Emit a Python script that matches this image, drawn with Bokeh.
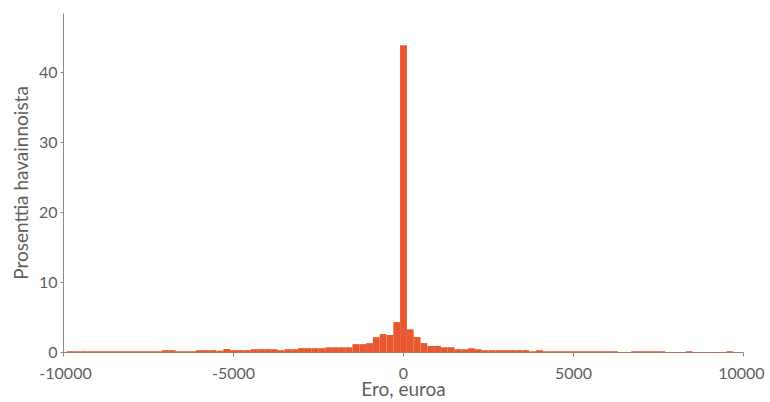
from bokeh.plotting import figure
from bokeh.models import Range1d, FixedTicker
from bokeh.embed import file_html
from bokeh.resources import INLINE

# ---- data ----
bin_width = 200
bin_centers = list(range(-9800, 9801, 200))
percent = [
    # -9800 ... -7200
    0.18, 0.18, 0.18, 0.18, 0.18, 0.18, 0.18, 0.18, 0.18, 0.18, 0.18, 0.18, 0.18, 0.18,
    # -7000, -6800
    0.33, 0.33,
    # -6600, -6400, -6200
    0.18, 0.18, 0.18,
    # -6000, -5800, -5600
    0.33, 0.33, 0.33,
    # -5400, -5200
    0.25, 0.50,
    # -5000, -4800, -4600
    0.33, 0.33, 0.33,
    # -4400 ... -3800
    0.47, 0.47, 0.47, 0.47,
    # -3600
    0.33,
    # -3400, -3200
    0.47, 0.47,
    # -3000 ... -2400
    0.62, 0.62, 0.62, 0.62,
    # -2200 ... -1600
    0.74, 0.74, 0.74, 0.74,
    # -1400, -1200
    1.19, 1.19,
    # -1000, -800, -600, -400, -200
    1.33, 2.18, 2.63, 2.50, 4.35,
    # 0
    43.85,
    # 200, 400, 600
    3.31, 2.20, 1.35,
    # 800, 1000, 1200, 1400
    0.94, 0.94, 0.75, 0.75,
    # 1600, 1800, 2000, 2200
    0.47, 0.47, 0.61, 0.47,
    # 2400 ... 3600
    0.33, 0.33, 0.33, 0.33, 0.33, 0.33, 0.33,
    # 3800, 4000
    0.18, 0.33,
    # 4200 ... 6200
    0.18, 0.18, 0.18, 0.18, 0.18, 0.18, 0.18, 0.18, 0.18, 0.18, 0.18,
    # 6400, 6600
    0.05, 0.05,
    # 6800 ... 7600
    0.18, 0.18, 0.18, 0.18, 0.18,
    # 7800, 8000, 8200
    0.05, 0.05, 0.05,
    # 8400
    0.18,
    # 8600 ... 9400
    0.05, 0.05, 0.05, 0.05, 0.05,
    # 9600, 9800
    0.18, 0.05,
]
x_ticks = [-10000, -5000, 0, 5000, 10000]
y_ticks = [0, 10, 20, 30, 40]
x_title = "Ero, euroa"
y_title = "Prosenttia havainnoista"

# ---- style ----
BAR = "#E8572F"
AXIS = "#8a8a8a"
TEXT = "#5f5f5f"
FONT = "Lato"
TICK_SIZE = "16px"
TITLE_SIZE = "19px"
PAD = "\u00a0"   # nudges the two end labels inward, as in the reference

p = figure(width=770, height=402, output_backend="svg", toolbar_location=None,
           x_range=Range1d(-10000, 10000), y_range=Range1d(0, 48.4),
           min_border_left=63, min_border_right=27, min_border_top=13,
           min_border_bottom=49)
p.outline_line_color = None
p.grid.visible = False
p.background_fill_color = "white"
p.border_fill_color = "white"

bars = p.vbar(x=bin_centers, width=bin_width, top=percent, bottom=0,
              fill_color=BAR, line_color=None)
bars.level = "overlay"   # bars are painted over the axis line

for ax in (p.xaxis[0], p.yaxis[0]):
    ax.axis_line_color = AXIS
    ax.major_tick_line_color = AXIS
    ax.minor_tick_line_color = None
    ax.major_tick_in = 0
    ax.major_label_text_font = FONT
    ax.major_label_text_font_size = TICK_SIZE
    ax.major_label_text_color = TEXT
    ax.axis_label_text_font = FONT
    ax.axis_label_text_font_size = TITLE_SIZE
    ax.axis_label_text_font_style = "normal"
    ax.axis_label_text_color = TEXT

xa = p.xaxis[0]
xa.ticker = FixedTicker(ticks=x_ticks)
xa.major_tick_out = 4
xa.major_label_standoff = 6
xa.axis_label = x_title
xa.axis_label_standoff = -8
labels = {t: str(t) for t in x_ticks}
labels[x_ticks[0]] = PAD + labels[x_ticks[0]]
labels[x_ticks[-1]] = labels[x_ticks[-1]] + PAD
xa.major_label_overrides = labels

ya = p.yaxis[0]
ya.ticker = FixedTicker(ticks=y_ticks)
ya.major_tick_out = 3
ya.major_label_standoff = 3
ya.axis_label = y_title
ya.axis_label_standoff = 4
ya.major_label_overrides = {t: str(t) for t in y_ticks}

open("out.html", "w").write(file_html(p, INLINE))
